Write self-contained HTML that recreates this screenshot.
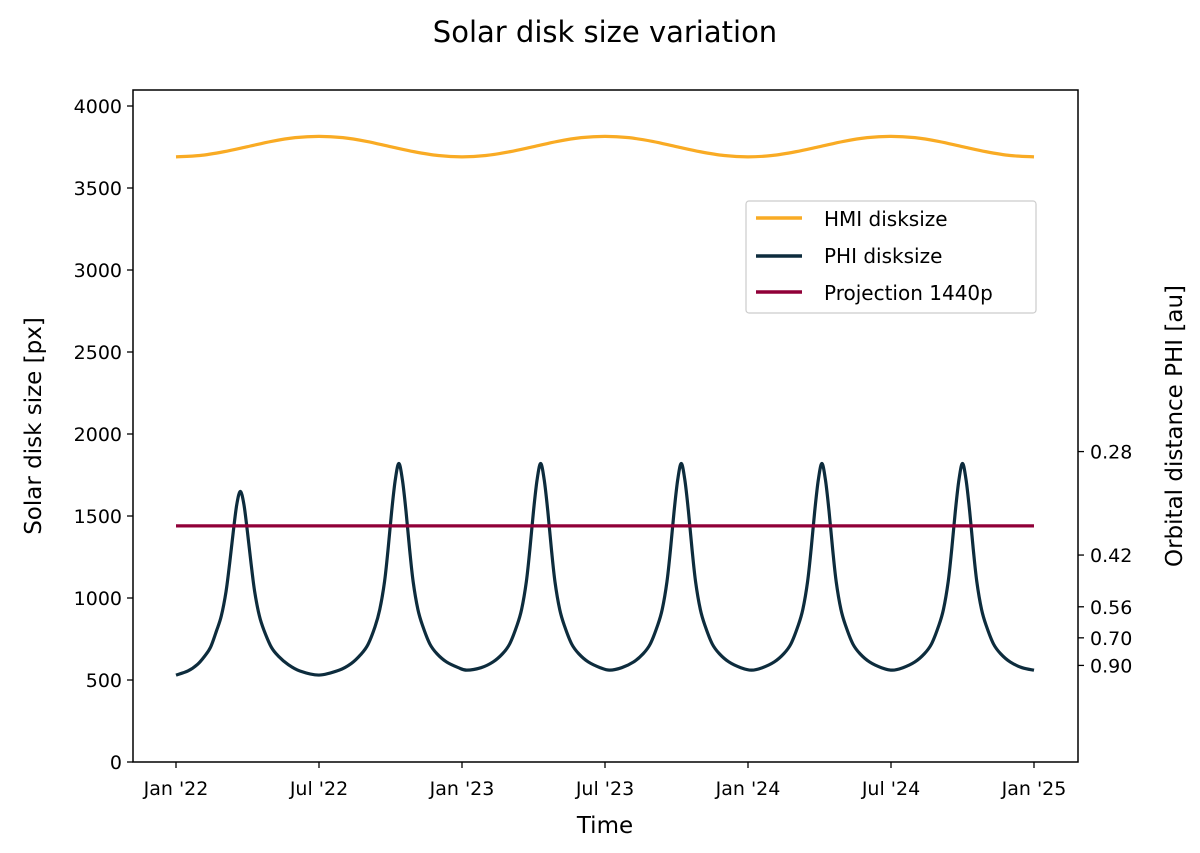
<!DOCTYPE html>
<html><head><meta charset="utf-8"><style>
body{margin:0;background:#fff}
svg text{font-family:"DejaVu Sans","Liberation Sans",sans-serif;fill:#000}
</style></head><body>
<svg id="chart" width="1200" height="848" viewBox="0 0 1200 848" xmlns="http://www.w3.org/2000/svg">
<text x="605" y="42" font-size="29" text-anchor="middle">Solar disk size variation</text>
<g id="axes"></g>
<g id="series"></g>
<g id="legend">
<rect x="746" y="201" width="290" height="112" fill="#fff" stroke="#ccc" stroke-width="1.2" rx="3"/>
<line x1="756" y1="218" x2="802" y2="218" stroke="#f9ab24" stroke-width="3.5"/>
<text x="824" y="226" font-size="20">HMI disksize</text>
<line x1="756" y1="256" x2="802" y2="256" stroke="#0d2c3d" stroke-width="3.5"/>
<text x="824" y="263" font-size="20">PHI disksize</text>
<line x1="756" y1="292" x2="802" y2="292" stroke="#900038" stroke-width="3.5"/>
<text x="824" y="300" font-size="20">Projection 1440p</text>
</g>
</svg>
<script>
const xTickLabels=["Jan '22","Jul '22","Jan '23","Jul '23","Jan '24","Jul '24","Jan '25"];
const xTickMonths=[0,6,12,18,24,30,36];
const yTicks=[0,500,1000,1500,2000,2500,3000,3500,4000];
const auTicks=[0.28,0.42,0.56,0.70,0.90];
const auTickLabels=["0.28","0.42","0.56","0.70","0.90"];
const hmiMonths=[0,1,2,3,4,5,6,7,8,9,10,11,12,13,14,15,16,17,18,19,20,21,22,23,24,25,26,27,28,29,30,31,32,33,34,35,36];
const hmiValues=[3690,3698,3721,3752,3784,3807,3815,3807,3784,3752,3721,3698,3690,3698,3721,3752,3784,3807,3815,3807,3784,3752,3721,3698,3690,3698,3721,3752,3784,3807,3815,3807,3784,3752,3721,3698,3690];
const phiMonths=[0,0.5,0.9,1.2,1.45,1.7,1.9,2.1,2.25,2.4,2.55,2.7,2.85,3.0,3.15,3.3,3.5,3.7,4.0,4.3,4.7,5.2,6.0,
6.85,7.35,7.75,8.05,8.35,8.55,8.75,8.9,9.05,9.2,9.35,9.5,9.65,9.8,9.95,10.15,10.35,10.65,10.95,11.35,11.85,12.2,
12.8,13.3,13.7,14.0,14.3,14.5,14.7,14.85,15.0,15.15,15.3,15.45,15.6,15.75,15.9,16.1,16.3,16.6,16.9,17.3,17.8,18.2,
18.7,19.2,19.6,19.9,20.2,20.4,20.6,20.75,20.9,21.05,21.2,21.35,21.5,21.65,21.8,22.0,22.2,22.5,22.8,23.2,23.7,24.15,
24.6,25.1,25.5,25.8,26.1,26.3,26.5,26.65,26.8,26.95,27.1,27.25,27.4,27.55,27.7,27.9,28.1,28.4,28.7,29.1,29.6,30.05,
30.5,31.0,31.4,31.7,32.0,32.2,32.4,32.55,32.7,32.85,33.0,33.15,33.3,33.45,33.6,33.8,34.0,34.3,34.6,35.0,35.5,36];
const phiValues=[530,555,595,645,700,800,890,1040,1210,1400,1570,1650,1570,1400,1210,1040,890,800,700,645,595,555,530,
560,600,655,715,825,930,1100,1300,1530,1720,1820,1720,1530,1300,1100,930,830,720,660,610,575,560,
575,610,660,720,830,930,1100,1300,1530,1720,1820,1720,1530,1300,1100,930,830,720,660,610,575,560,
575,610,660,720,830,930,1100,1300,1530,1720,1820,1720,1530,1300,1100,930,830,720,660,610,575,560,
575,610,660,720,830,930,1100,1300,1530,1720,1820,1720,1530,1300,1100,930,830,720,660,610,575,560,
575,610,660,720,830,930,1100,1300,1530,1720,1820,1720,1530,1300,1100,930,830,720,660,610,575,560];
const projectionValue=[1440];
const auScaleK=530;

const L=133,R=1078,T=90,B=762;
const X=m=>176+m*(1034-176)/36;
const Y=v=>B-v*(B-106)/4000;
const NS="http://www.w3.org/2000/svg";
function mk(tag,attrs,parent){const e=document.createElementNS(NS,tag);for(const k in attrs)e.setAttribute(k,attrs[k]);parent.appendChild(e);return e;}
const ax=document.getElementById('axes');
const frame=mk('rect',{x:L,y:T,width:R-L,height:B-T,fill:'none',stroke:'#000','stroke-width':1.5},ax);


yTicks.forEach(v=>{
 mk('line',{x1:L-6,x2:L,y1:Y(v),y2:Y(v),stroke:'#000','stroke-width':1.3},ax);
 const t=mk('text',{x:L-11,y:Y(v)+7,'font-size':19,'text-anchor':'end'},ax);t.textContent=v;
 
 
});
xTickMonths.forEach((m,i)=>{
 mk('line',{x1:X(m),x2:X(m),y1:B,y2:B+6,stroke:'#000','stroke-width':1.3},ax);
 const t=mk('text',{x:X(m),y:B+33,'font-size':19,'text-anchor':'middle'},ax);t.textContent=xTickLabels[i];
 
 
});
auTicks.forEach((a,i)=>{
 const y=Y(auScaleK/a);
 mk('line',{x1:R,x2:R+6,y1:y,y2:y,stroke:'#000','stroke-width':1.3},ax);
 const t=mk('text',{x:R+12,y:y+7,'font-size':19},ax);t.textContent=auTickLabels[i];
 
 
});
let t=mk('text',{x:605,y:833,'font-size':23,'text-anchor':'middle'},ax);t.textContent='Time';


t=mk('text',{x:0,y:0,'font-size':23,'text-anchor':'middle',transform:'translate(41,426) rotate(-90)'},ax);t.textContent='Solar disk size [px]';


t=mk('text',{x:0,y:0,'font-size':23,'text-anchor':'middle',transform:'translate(1182,426) rotate(-90)'},ax);t.textContent='Orbital distance PHI [au]';



function smooth(xs,ys){
 const p=xs.map((m,i)=>[X(m),Y(ys[i])]);
 let d='M'+p[0][0]+','+p[0][1];
 for(let i=0;i<p.length-1;i++){
  const p0=p[Math.max(0,i-1)],p1=p[i],p2=p[i+1],p3=p[Math.min(p.length-1,i+2)];
  const c1=[p1[0]+(p2[0]-p0[0])/6,p1[1]+(p2[1]-p0[1])/6];
  const c2=[p2[0]-(p3[0]-p1[0])/6,p2[1]-(p3[1]-p1[1])/6];
  d+=`C${c1[0]},${c1[1]} ${c2[0]},${c2[1]} ${p2[0]},${p2[1]}`;
 }
 return d;
}
const sg=document.getElementById('series');
let s=mk('path',{d:smooth(hmiMonths,hmiValues),fill:'none',stroke:'#f9ab24','stroke-width':3.2},sg);


s=mk('path',{d:smooth(phiMonths,phiValues),fill:'none',stroke:'#0d2c3d','stroke-width':3.2,'stroke-linejoin':'round'},sg);


s=mk('line',{x1:X(0),x2:X(36),y1:Y(projectionValue[0]),y2:Y(projectionValue[0]),stroke:'#900038','stroke-width':3.2},sg);


</script>
</body></html>
